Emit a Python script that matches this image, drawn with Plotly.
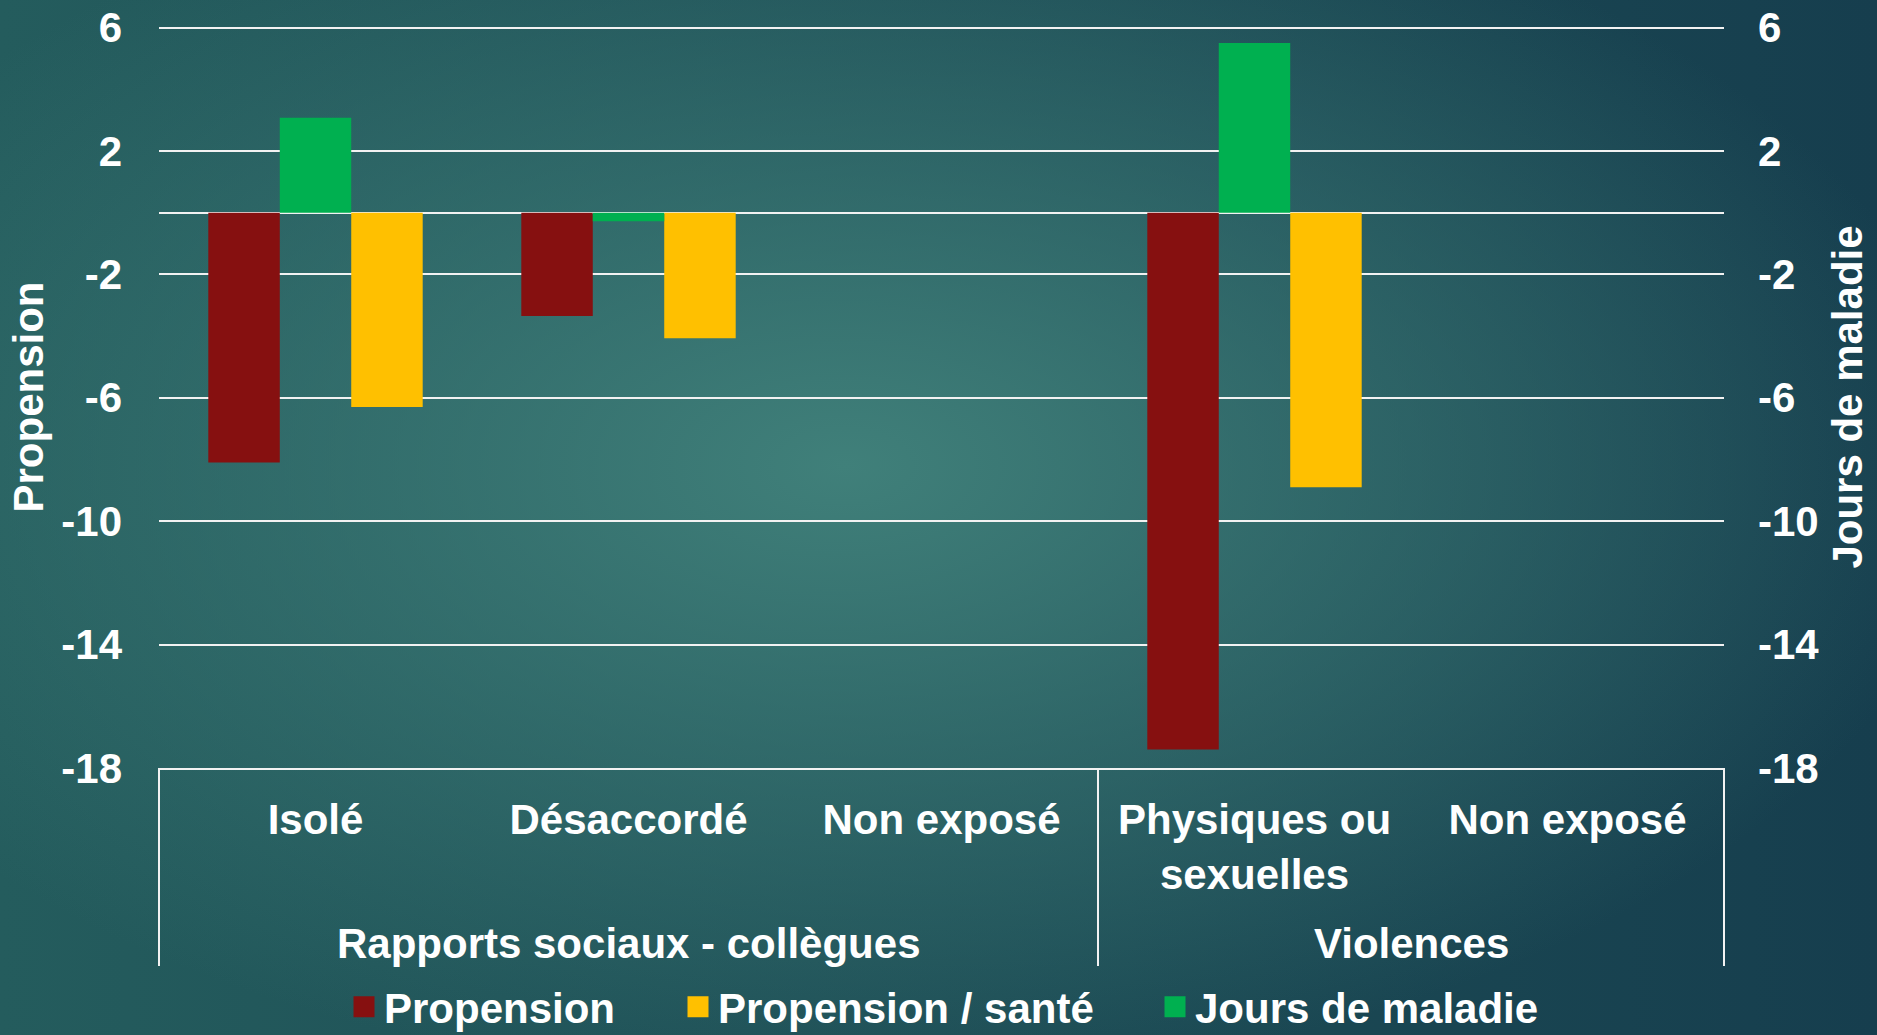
import base64
import plotly.graph_objects as go

# ---------------- data ----------------
groups = ["Rapports sociaux - collègues", "Rapports sociaux - collègues", "Rapports sociaux - collègues",
          "Violences", "Violences"]
categories = ["Isolé", "Désaccordé", "Non exposé", "Physiques ou<br>sexuelles", "Non exposé"]
propension = [-8.1, -3.35, 0, -17.4, 0]
propension_sante = [-6.3, -4.07, 0, -8.9, 0]
jours_maladie = [3.08, -0.28, 0, 5.5, 0]
y_ticks = [6, 2, -2, -6, -10, -14, -18]
y_ticktext = [str(v) for v in y_ticks]

# ---------------- styles ----------------
FONT = "Liberation Sans, Arial, sans-serif"
WHITE = "#ffffff"
GRID = "#f2f2f2"
RED = "#861010"
YELLOW = "#FFC000"
GREEN = "#00B050"

W, H = 1877, 1035
ML, MR, MT, MB = 159, 153, 26, 267
pw = W - ML - MR
ph = H - MT - MB
Y_RANGE = [-18, 6.05]

svg = f'''<svg xmlns="http://www.w3.org/2000/svg" width="{W}" height="{H}" viewBox="0 0 {W} {H}" preserveAspectRatio="none">
<defs>
<linearGradient id="lin" x1="0" y1="0" x2="1" y2="0">
<stop offset="0" stop-color="#245c5d"/>
<stop offset="1" stop-color="#163e4e"/>
</linearGradient>
<radialGradient id="rad" cx="0.45" cy="0.45" r="0.6">
<stop offset="0" stop-color="#40807a" stop-opacity="1"/>
<stop offset="1" stop-color="#40807a" stop-opacity="0"/>
</radialGradient>
</defs>
<rect x="0" y="0" width="{W}" height="{H}" fill="url(#lin)"/>
<rect x="0" y="0" width="{W}" height="{H}" fill="url(#rad)"/>
</svg>'''
src = "data:image/svg+xml;base64," + base64.b64encode(svg.encode()).decode()

xpos = list(range(len(categories)))
n = len(categories)

fig = go.Figure()
fig.add_trace(go.Bar(x=xpos, y=propension, name="Propension", marker_color=RED, marker_line_width=0,
                     offsetgroup="1", alignmentgroup="a", yaxis="y", showlegend=False))
fig.add_trace(go.Bar(x=xpos, y=jours_maladie, name="Jours de maladie", marker_color=GREEN,
                     marker_line_width=0,
                     offsetgroup="2", alignmentgroup="a", yaxis="y2", showlegend=False))
fig.add_trace(go.Bar(x=xpos, y=propension_sante, name="Propension / santé", marker_color=YELLOW,
                     marker_line_width=0,
                     offsetgroup="3", alignmentgroup="a", yaxis="y", showlegend=False))

# legend entries (larger square swatches)
legend_items = [("Propension", RED, "legend", 364), ("Propension / santé", YELLOW, "legend2", 698),
                ("Jours de maladie", GREEN, "legend3", 1175)]
for name, col, lg, _ in legend_items:
    fig.add_trace(go.Scatter(x=[None], y=[None], mode="markers", name=name, legend=lg,
                             marker=dict(symbol="square", size=16, color=col,
                                         line=dict(width=5, color=col)),
                             showlegend=True, hoverinfo="skip"))

tickfont = dict(family=FONT, size=42, color=WHITE, weight="bold")

# group labels and dividers for the two-level category axis
annotations = []
shapes = []
uniq = []
for g in groups:
    if g not in uniq:
        uniq.append(g)
bounds = [-0.5]
for g in uniq:
    idx = [i for i, gg in enumerate(groups) if gg == g]
    annotations.append(dict(text=g, x=sum(idx) / len(idx), xref="x", y=-175 / ph, yref="paper",
                            xanchor="center", yanchor="middle", showarrow=False, font=tickfont))
    bounds.append(max(idx) + 0.5)
for b in bounds:
    xp = (b + 0.5) / n
    shapes.append(dict(type="line", xref="paper", yref="paper", x0=xp, x1=xp, y0=0, y1=-198 / ph,
                       line=dict(color=GRID, width=2), layer="above"))

legends = {}
for i, (name, col, lg, cx) in enumerate(legend_items):
    legends[lg] = dict(orientation="h", xref="container", yref="container",
                       x=(cx - 20) / W, xanchor="left", y=(H - 1007) / H, yanchor="middle",
                       font=dict(family=FONT, size=42, color=WHITE, weight="bold"),
                       bgcolor="rgba(0,0,0,0)", itemclick=False, itemdoubleclick=False,
                       borderwidth=0)

fig.update_layout(
    width=W, height=H,
    margin=dict(l=ML, r=MR, t=MT, b=MB, autoexpand=False),
    paper_bgcolor="#245c5d",
    plot_bgcolor="rgba(0,0,0,0)",
    barmode="group",
    bargap=0.315,
    bargroupgap=0,
    font=dict(family=FONT, size=42, color=WHITE, weight="bold"),
    images=[dict(source=src, xref="paper", yref="paper",
                 x=-ML / pw, y=1 + MT / ph, sizex=W / pw, sizey=H / ph,
                 sizing="stretch", xanchor="left", yanchor="top", layer="below")],
    xaxis=dict(range=[-0.5, n - 0.5], tickvals=xpos, ticktext=categories, tickfont=tickfont,
               showline=True, linecolor=GRID, linewidth=2, ticks="", showgrid=False,
               zeroline=False, ticklabelstandoff=14, fixedrange=True),
    yaxis=dict(range=Y_RANGE, tickvals=y_ticks, ticktext=y_ticktext, tickfont=tickfont,
               showgrid=True, gridcolor=GRID, gridwidth=2, zeroline=True, zerolinecolor=GRID,
               zerolinewidth=2, showline=False, ticks="", ticklabelstandoff=36,
               title=dict(text="Propension", font=tickfont, standoff=4), fixedrange=True),
    yaxis2=dict(range=Y_RANGE, tickvals=y_ticks, ticktext=y_ticktext, tickfont=tickfont,
                overlaying="y", side="right", showgrid=False, zeroline=False, showline=False,
                ticks="", ticklabelstandoff=33, fixedrange=True,
                title=dict(text="Jours de maladie", font=tickfont, standoff=14)),
    annotations=annotations,
    shapes=shapes,
    showlegend=True,
    **legends,
)

fig.write_html("out.html", config={"displayModeBar": False},
               post_script="document.body.style.margin='0';document.body.style.overflow='hidden';")
